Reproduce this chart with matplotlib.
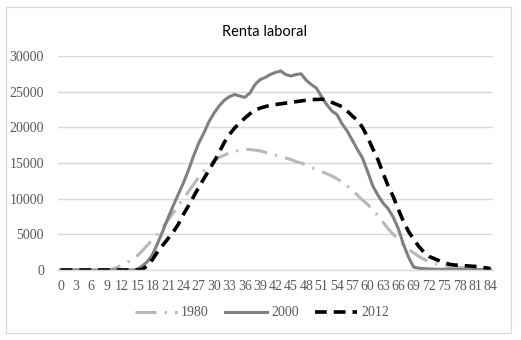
import matplotlib
matplotlib.use("Agg")
import matplotlib.pyplot as plt
from matplotlib.patches import Rectangle

plt.rcParams["lines.scale_dashes"] = False
plt.rcParams["font.family"] = ["Liberation Serif", "DejaVu Serif"]

ages = list(range(0, 85))

renta_1980 = [
    0, 0, 0, 0, 0, 0, 0, 0, 0, 0,
    100, 350, 700, 1050, 1500, 2000, 2700, 3500, 4300, 5100,
    6000, 7000, 8000, 9000, 10000, 11000, 12000, 13000, 13900, 14700,
    15300, 15800, 16100, 16400, 16600, 16800, 16900, 16900, 16800, 16700,
    16500, 16300, 16100, 15900, 15700, 15500, 15200, 15000, 14700, 14400,
    14100, 13800, 13500, 13200, 12800, 12300, 11800, 11200, 10500, 9800,
    9200, 8500, 7600, 6700, 5800, 5000, 4200, 3500, 2900, 2400,
    1900, 1500, 1200, 950, 750, 600, 480, 400, 330, 280,
    240, 200, 170, 150, 130,
]

renta_2000 = [
    0, 0, 0, 0, 0, 0, 0, 0, 0, 0,
    0, 0, 0, 0, 0, 100, 600, 1200, 2200, 3800,
    5500, 7300, 9000, 10600, 12200, 14000, 16000, 17800, 19200, 20800,
    22000, 23000, 23800, 24300, 24600, 24400, 24200, 24800, 26000, 26700,
    27000, 27400, 27700, 27900, 27400, 27200, 27400, 27500, 26600, 26000,
    25500, 24300, 23200, 22300, 21800, 20500, 19500, 18200, 16900, 15700,
    13800, 11800, 10500, 9400, 8600, 7400, 5800, 3600, 1800, 400,
    250, 200, 150, 120, 100, 100, 90, 80, 70, 60,
    50, 50, 50, 50, 50,
]

renta_2012 = [
    0, 0, 0, 0, 0, 0, 0, 0, 0, 0,
    0, 0, 0, 0, 0, 0, 100, 600, 1500, 2600,
    3500, 4400, 5300, 6400, 7800, 9000, 10300, 11600, 12800, 14000,
    15200, 16500, 17900, 19000, 19900, 20600, 21300, 21900, 22400, 22700,
    22900, 23100, 23200, 23300, 23400, 23500, 23600, 23700, 23800, 23900,
    23900, 23950, 23800, 23500, 23200, 22900, 22300, 21600, 21000, 20000,
    18600, 17000, 15500, 13600, 11800, 10300, 8500, 6800, 5400, 4300,
    3300, 2500, 1900, 1600, 1300, 1000, 800, 700, 650, 600,
    550, 500, 400, 300, 200,
]

tick_ages = list(range(0, 85, 3))
y_ticks = [0, 5000, 10000, 15000, 20000, 25000, 30000]

fig = plt.figure(figsize=(5.21, 3.40), dpi=100)
ax = fig.add_axes([58 / 521, 1 - 270 / 340, 435 / 521, 214 / 340])

# chart frame
fig.patches.append(Rectangle((6 / 521, 1 - 333 / 340), 505 / 521, 326 / 340,
                             transform=fig.transFigure, fill=False,
                             edgecolor="#D9D9D9", linewidth=0.9))

ax.plot(ages, renta_1980, color="#B8B8B8", linewidth=2.2,
        linestyle=(0, (15, 6, 1.5, 6)), label="1980",
        dash_capstyle="butt")
ax.plot(ages, renta_2000, color="#808080", linewidth=2.2, label="2000")
ax.plot(ages, renta_2012, color="black", linewidth=2.6,
        linestyle=(0, (8.5, 5)), label="2012", dash_capstyle="butt")

ax.set_xlim(-0.5, 84.5)
ax.set_ylim(0, 30000)
ax.set_yticks(y_ticks)
ax.set_yticklabels([str(v) for v in y_ticks])
ax.set_xticks(tick_ages)
ax.set_xticklabels([str(a) for a in tick_ages])

ax.grid(axis="y", color="#D9D9D9", linewidth=1.0)
ax.set_axisbelow(True)
for side in ["top", "right", "left"]:
    ax.spines[side].set_visible(False)
ax.spines["bottom"].set_color("#D9D9D9")
ax.spines["bottom"].set_linewidth(1.0)
ax.tick_params(axis="both", length=0, colors="#595959", labelsize=10)
ax.tick_params(axis="x", pad=7)
ax.tick_params(axis="y", pad=10)

fig.text(265 / 521, 1 - 32 / 340, "Renta laboral", ha="center", va="center",
         fontsize=10.5, family="Lato", color="black")

leg = fig.legend(loc="center", bbox_to_anchor=(262 / 521, 1 - 313 / 340),
                 ncol=3, frameon=False, handlelength=3.0, columnspacing=1.2,
                 handletextpad=0.3, prop={"size": 10})
for t in leg.get_texts():
    t.set_color("#595959")

fig.savefig("out.png", dpi=100)
